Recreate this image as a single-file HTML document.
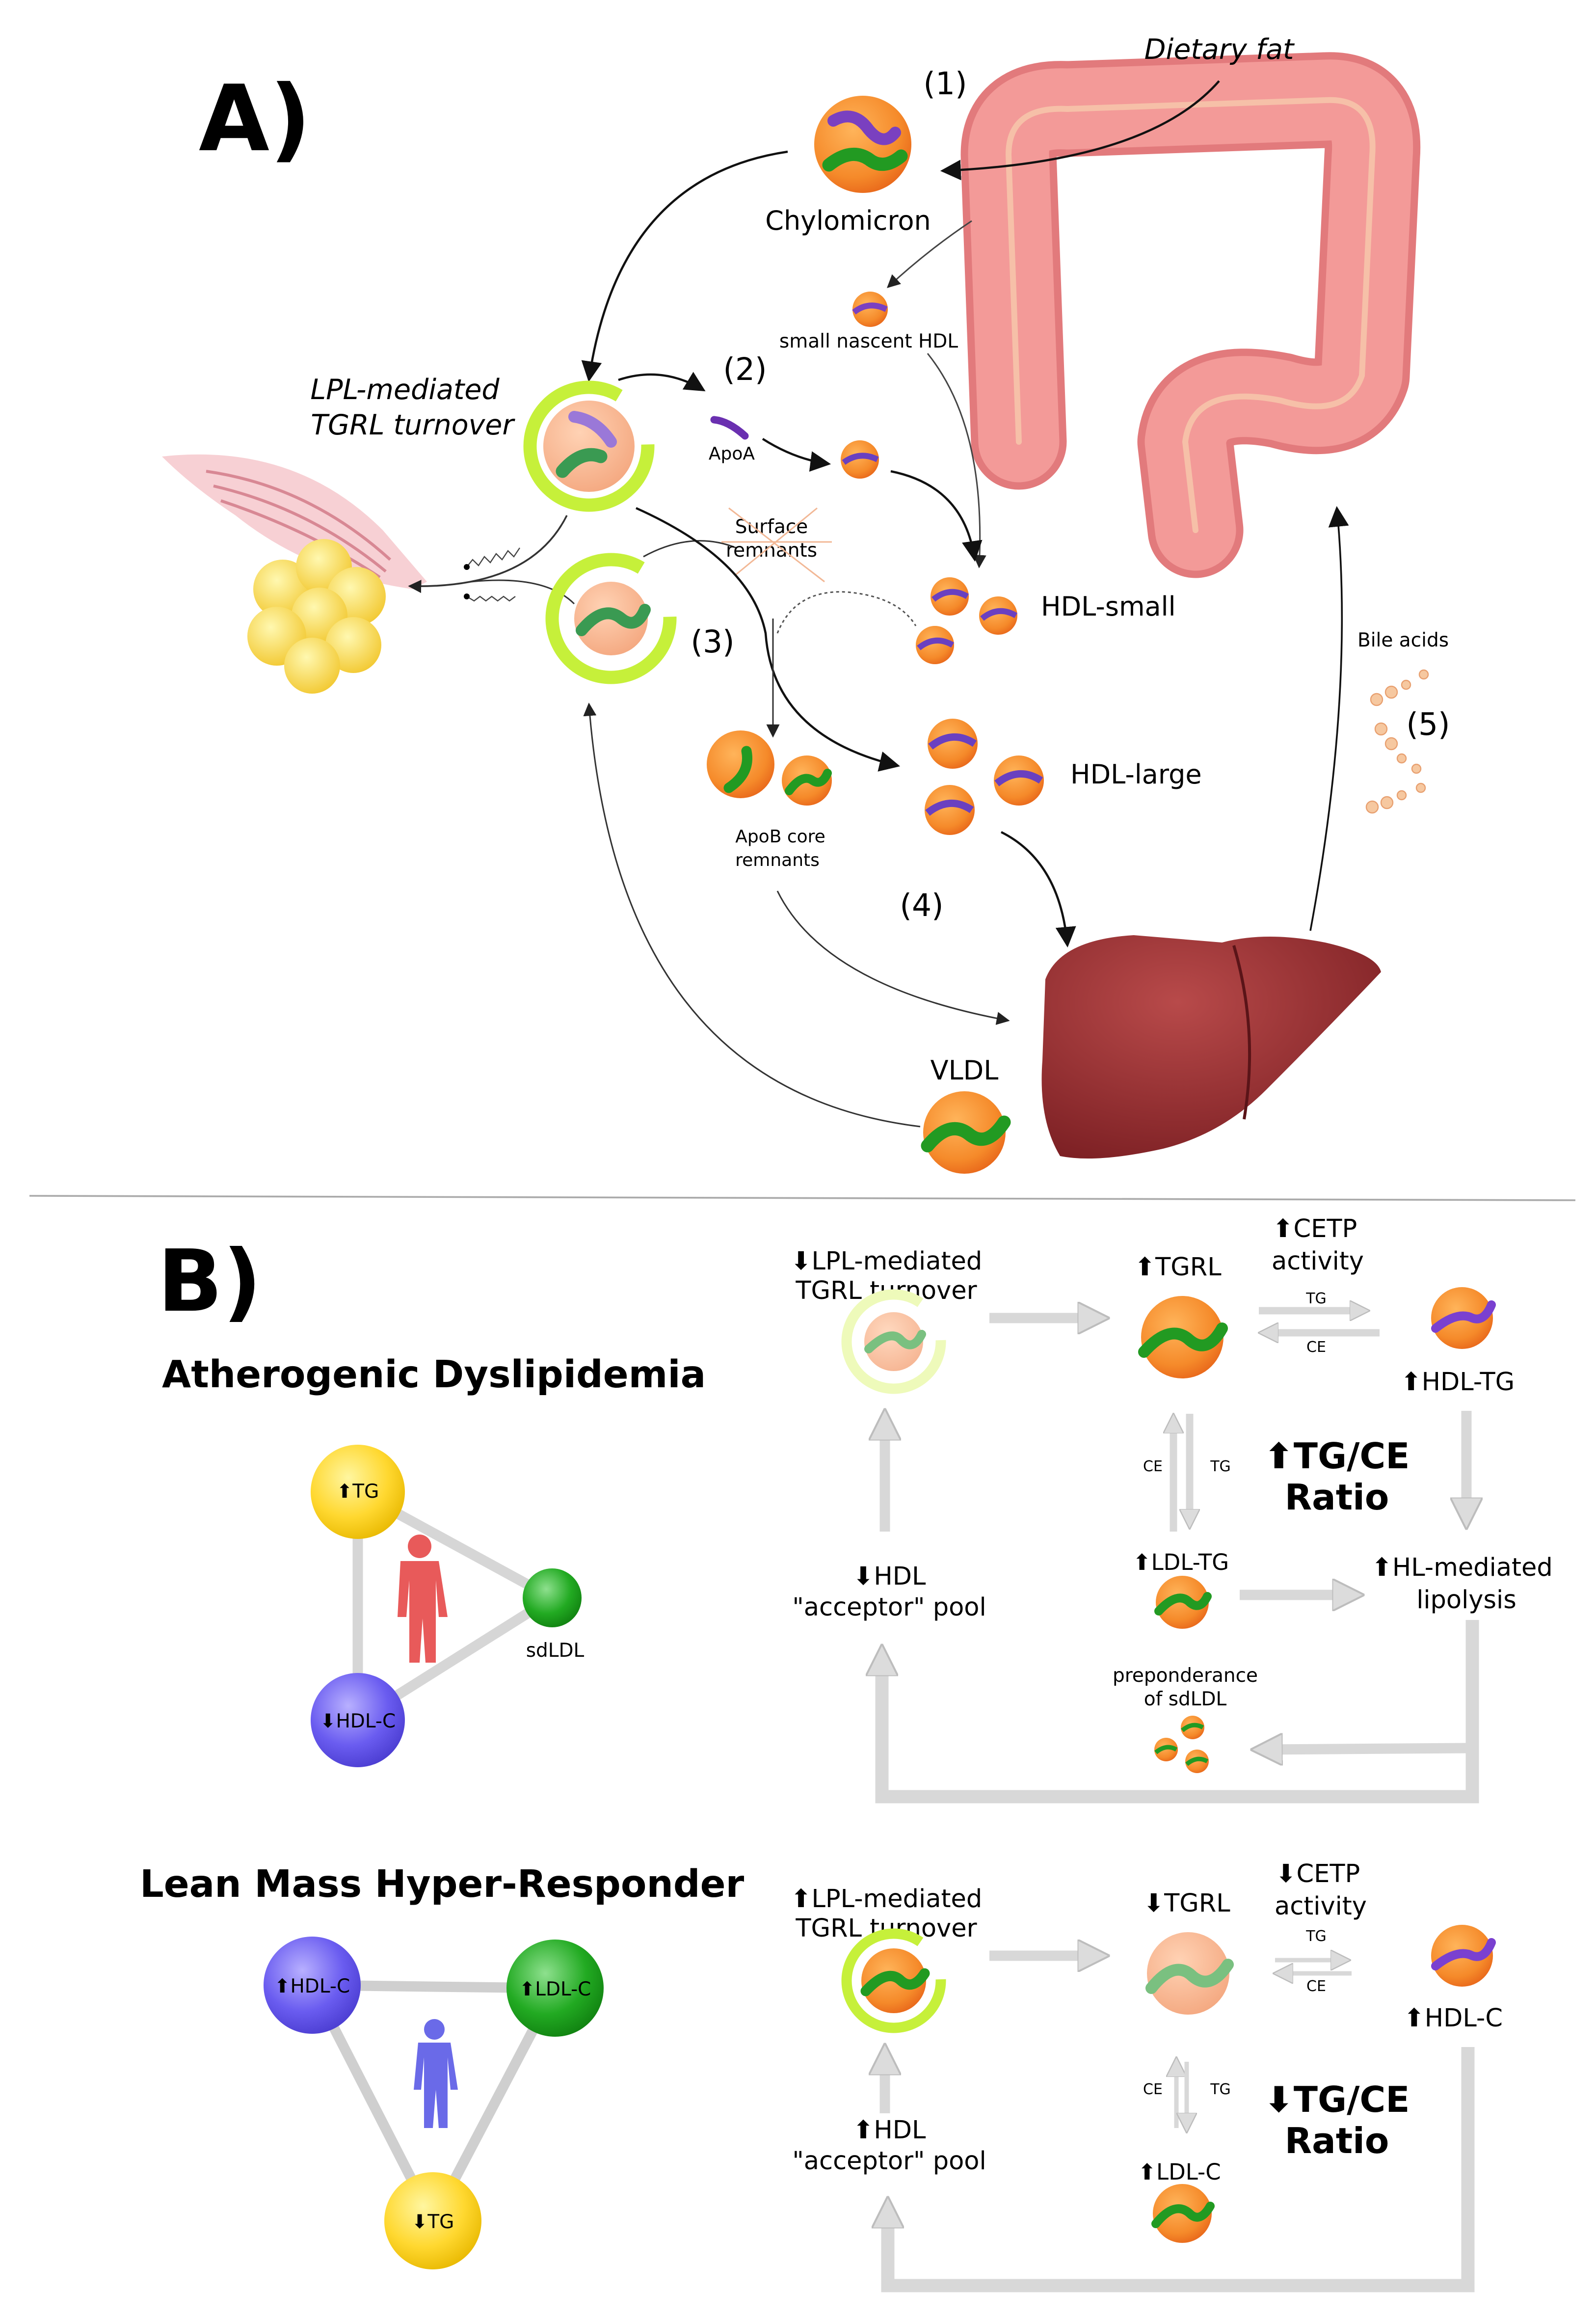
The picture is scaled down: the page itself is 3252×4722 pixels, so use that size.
<!DOCTYPE html>
<html><head><meta charset="utf-8"><style>html,body{margin:0;padding:0;background:#fff}svg{display:block}text{font-family:"DejaVu Sans","Liberation Sans",sans-serif}</style></head>
<body>
<svg width="3252" height="4722" viewBox="0 0 1084 1574" xmlns="http://www.w3.org/2000/svg">
<defs>
<radialGradient id="or" cx="0.4" cy="0.35" r="0.7"><stop offset="0" stop-color="#ffb45a"/><stop offset="0.7" stop-color="#f58a2a"/><stop offset="1" stop-color="#e8661a"/></radialGradient>
<radialGradient id="pe" cx="0.4" cy="0.35" r="0.7"><stop offset="0" stop-color="#ffd2b4"/><stop offset="1" stop-color="#f4a880"/></radialGradient>
<radialGradient id="ye" cx="0.4" cy="0.35" r="0.7"><stop offset="0" stop-color="#fff6a0"/><stop offset="0.6" stop-color="#ffd830"/><stop offset="1" stop-color="#e8b800"/></radialGradient>
<radialGradient id="gr" cx="0.4" cy="0.35" r="0.7"><stop offset="0" stop-color="#8ee08e"/><stop offset="0.6" stop-color="#22aa22"/><stop offset="1" stop-color="#108010"/></radialGradient>
<radialGradient id="pu" cx="0.4" cy="0.35" r="0.7"><stop offset="0" stop-color="#b8b0ff"/><stop offset="0.6" stop-color="#6a5cf0"/><stop offset="1" stop-color="#4a3cd0"/></radialGradient>
<radialGradient id="fat" cx="0.4" cy="0.35" r="0.7"><stop offset="0" stop-color="#fff8b0"/><stop offset="1" stop-color="#f2c830"/></radialGradient>
<radialGradient id="liv" cx="0.4" cy="0.3" r="0.8"><stop offset="0" stop-color="#b84a4a"/><stop offset="1" stop-color="#7a1e22"/></radialGradient>
<marker id="ah" viewBox="0 0 10 10" refX="9" refY="5" markerWidth="14" markerHeight="14" markerUnits="userSpaceOnUse" orient="auto"><path d="M0,0 L10,5 L0,10 z" fill="#111"/></marker>
<marker id="as" viewBox="0 0 10 10" refX="9" refY="5" markerWidth="9" markerHeight="9" markerUnits="userSpaceOnUse" orient="auto"><path d="M0,0 L10,5 L0,10 z" fill="#222"/></marker>
<marker id="ga" viewBox="0 0 10 10" refX="6" refY="5" markerWidth="22" markerHeight="22" markerUnits="userSpaceOnUse" orient="auto"><path d="M0,0 L10,5 L0,10 z" fill="#dcdcdc" stroke="#bdbdbd" stroke-width="0.6"/></marker>
<marker id="gs" viewBox="0 0 10 10" refX="6" refY="5" markerWidth="14" markerHeight="14" markerUnits="userSpaceOnUse" orient="auto"><path d="M0,0 L10,5 L0,10 z" fill="#dcdcdc" stroke="#bdbdbd" stroke-width="0.6"/></marker>
</defs>
<rect width="1084" height="1574" fill="#fff"/>

<text x="135" y="102" font-size="62" font-weight="bold" font-family="Liberation Sans">A)</text>

<g fill="none" stroke-linecap="round" stroke-linejoin="round">
<path d="M692,300 L685,105 Q685,72 725,74 L900,68 Q935,66 932,106 L925,255 Q915,285 870,272 Q810,260 805,300 L812,360" stroke="#e27a7c" stroke-width="65"/>
<path d="M692,300 L685,105 Q685,72 725,74 L900,68 Q935,66 932,106 L925,255 Q915,285 870,272 Q810,260 805,300 L812,360" stroke="#f39a98" stroke-width="55"/>
<path d="M692,300 L685,105 Q685,72 725,74 L900,68 Q935,66 932,106 L925,255 Q915,285 870,272 Q810,260 805,300 L812,360" stroke="#f6c0a8" stroke-width="4"/>
</g>
<text x="828" y="40" font-size="19" font-style="italic" text-anchor="middle">Dietary fat</text>
<path d="M828,55 Q780,110 640,116" fill="none" stroke="#111" stroke-width="1.5" marker-end="url(#ah)"/>
<text x="642" y="64" font-size="21" text-anchor="middle">(1)</text>

<circle cx="586" cy="98" r="33" fill="url(#or)"/>
<path d="M566,82 Q580,74 590,88 Q600,100 608,90" stroke="#7a40c0" stroke-width="8" fill="none" stroke-linecap="round"/>
<path d="M563,112 Q578,100 590,108 Q600,116 612,106" stroke="#229a22" stroke-width="9" fill="none" stroke-linecap="round"/>
<text x="576" y="156" font-size="18" text-anchor="middle">Chylomicron</text>
<path d="M535,103 Q420,120 400,258" fill="none" stroke="#111" stroke-width="1.5" marker-end="url(#ah)"/>

<path d="M660,150 Q630,170 603,195" fill="none" stroke="#444" stroke-width="1" marker-end="url(#as)"/>
<circle cx="591" cy="210" r="12" fill="url(#or)"/>
<path d="M580,212 Q590,204 602,210" stroke="#7a40c0" stroke-width="4" fill="none"/>
<text x="590" y="236" font-size="13" text-anchor="middle">small nascent HDL</text>
<path d="M630,240 Q670,290 665,385" fill="none" stroke="#444" stroke-width="1" marker-end="url(#as)"/>

<text x="275" y="271" font-size="19" font-style="italic" text-anchor="middle">LPL-mediated</text>
<text x="280" y="295" font-size="19" font-style="italic" text-anchor="middle">TGRL turnover</text>
<circle cx="400" cy="303" r="40" fill="none" stroke="#c6f03a" stroke-width="9" stroke-dasharray="210 40"/>
<circle cx="400" cy="303" r="31" fill="url(#pe)"/>
<path d="M390,283 Q405,285 415,300" stroke="#9a78d8" stroke-width="8" fill="none" stroke-linecap="round"/>
<path d="M382,320 Q395,305 408,310" stroke="#3a9a52" stroke-width="9" fill="none" stroke-linecap="round"/>
<path d="M420,258 Q450,248 478,265" fill="none" stroke="#111" stroke-width="1.5" marker-end="url(#ah)"/>
<text x="506" y="258" font-size="21" text-anchor="middle">(2)</text>
<path d="M485,285 Q495,286 506,296" stroke="#6a30b0" stroke-width="5" fill="none" stroke-linecap="round"/>
<text x="497" y="312" font-size="12" text-anchor="middle">ApoA</text>
<path d="M518,298 Q540,312 563,315" fill="none" stroke="#111" stroke-width="1.5" marker-end="url(#ah)"/>
<circle cx="584" cy="312" r="13" fill="url(#or)"/>
<path d="M573,314 Q584,306 596,312" stroke="#6a40c0" stroke-width="4" fill="none"/>
<path d="M605,320 Q655,330 662,380" fill="none" stroke="#111" stroke-width="1.5" marker-end="url(#ah)"/>

<path d="M110,310 Q200,300 260,360 L290,395 L280,400 Q210,390 160,350 Q130,330 110,310z" fill="#f7d0d4"/>
<path d="M140,320 Q210,330 265,380 M145,330 Q210,345 262,388 M150,340 Q210,360 258,392" stroke="#d88894" stroke-width="2" fill="none"/>
<g fill="url(#fat)">
<circle cx="192" cy="400" r="20"/><circle cx="220" cy="385" r="19"/><circle cx="242" cy="405" r="20"/>
<circle cx="217" cy="418" r="19"/><circle cx="188" cy="432" r="20"/><circle cx="240" cy="438" r="19"/><circle cx="212" cy="452" r="19"/>
</g>
<path d="M385,350 Q360,400 278,398" fill="none" stroke="#333" stroke-width="1.2" marker-end="url(#as)"/>
<path d="M320,395 Q370,390 390,410" fill="none" stroke="#333" stroke-width="1"/>
<path d="M317,385 l4,-5 l4,4 l4,-6 l4,4 l4,-6 l4,4 l4,-6 l4,4 l4,-6" fill="none" stroke="#444" stroke-width="0.8"/>
<path d="M317,385 l0,0" stroke="#000" stroke-width="4" stroke-linecap="round"/>
<path d="M317,405 l5,3 l4,-3 l4,3 l4,-3 l4,3 l4,-3 l4,3 l4,-3" fill="none" stroke="#444" stroke-width="0.8"/>
<path d="M317,405 l0,0" stroke="#000" stroke-width="4" stroke-linecap="round"/>

<circle cx="415" cy="420" r="40" fill="none" stroke="#c6f03a" stroke-width="9" stroke-dasharray="210 40"/>
<circle cx="415" cy="420" r="25" fill="url(#pe)"/>
<path d="M395,428 Q410,410 422,420 Q432,428 438,414" stroke="#3a9a52" stroke-width="8" fill="none" stroke-linecap="round"/>
<text x="484" y="443" font-size="21" text-anchor="middle">(3)</text>
<path d="M437,378 Q470,360 500,372" fill="none" stroke="#333" stroke-width="1"/>
<text x="524" y="362" font-size="13" text-anchor="middle">Surface</text>
<text x="524" y="378" font-size="13" text-anchor="middle">remnants</text>
<g stroke="#f2b896" stroke-width="1" fill="none"><path d="M495,345 L560,395 M500,390 L555,345 M490,368 L565,368"/></g>

<path d="M432,345 Q510,380 520,430 Q525,500 610,520" fill="none" stroke="#111" stroke-width="1.5" marker-end="url(#ah)"/>
<path d="M525,420 L525,500" fill="none" stroke="#333" stroke-width="1" marker-end="url(#as)"/>
<path d="M528,430 Q540,400 575,402 Q610,405 622,425" fill="none" stroke="#555" stroke-width="1" stroke-dasharray="2,2"/>

<g>
<circle cx="645" cy="405" r="13" fill="url(#or)"/><path d="M634,407 Q645,398 657,405" stroke="#6a40c0" stroke-width="4" fill="none"/>
<circle cx="678" cy="418" r="13" fill="url(#or)"/><path d="M667,420 Q678,411 690,418" stroke="#6a40c0" stroke-width="4" fill="none"/>
<circle cx="635" cy="438" r="13" fill="url(#or)"/><path d="M624,440 Q635,431 647,438" stroke="#6a40c0" stroke-width="4" fill="none"/>
</g>
<text x="707" y="418" font-size="18">HDL-small</text>

<circle cx="503" cy="519" r="23" fill="url(#or)"/><path d="M495,535 Q510,525 507,510" stroke="#229a22" stroke-width="7" fill="none" stroke-linecap="round"/>
<circle cx="548" cy="530" r="17" fill="url(#or)"/><path d="M536,537 Q545,525 552,530 Q558,534 562,525" stroke="#229a22" stroke-width="6" fill="none" stroke-linecap="round"/>
<text x="530" y="572" font-size="12" text-anchor="middle">ApoB core</text>
<text x="528" y="588" font-size="12" text-anchor="middle">remnants</text>

<circle cx="647" cy="505" r="17" fill="url(#or)"/><path d="M632,507 Q647,495 662,505" stroke="#6a40c0" stroke-width="5" fill="none"/>
<circle cx="692" cy="530" r="17" fill="url(#or)"/><path d="M677,532 Q692,520 707,530" stroke="#6a40c0" stroke-width="5" fill="none"/>
<circle cx="645" cy="550" r="17" fill="url(#or)"/><path d="M630,552 Q645,540 660,550" stroke="#6a40c0" stroke-width="5" fill="none"/>
<text x="727" y="532" font-size="18">HDL-large</text>
<path d="M680,565 Q720,585 725,642" fill="none" stroke="#111" stroke-width="1.5" marker-end="url(#ah)"/>
<text x="626" y="622" font-size="21" text-anchor="middle">(4)</text>
<path d="M528,605 Q560,670 685,693" fill="none" stroke="#333" stroke-width="1" marker-end="url(#as)"/>

<path d="M710,665 Q720,638 770,635 L830,640 Q860,632 900,640 Q935,648 938,660 Q900,700 860,740 Q830,770 790,780 Q745,790 720,785 Q705,760 708,720 z" fill="url(#liv)"/>
<path d="M838,642 Q855,700 845,760" stroke="#5a1418" stroke-width="2" fill="none"/>

<path d="M890,632 Q920,470 908,345" fill="none" stroke="#111" stroke-width="1.2" marker-end="url(#ah)"/>
<text x="953" y="439" font-size="13" text-anchor="middle">Bile acids</text>
<text x="970" y="499" font-size="21" text-anchor="middle">(5)</text>
<g fill="#f6c8a0" stroke="#e8a070" stroke-width="0.8">
<circle cx="935" cy="475" r="4"/><circle cx="945" cy="470" r="4"/><circle cx="955" cy="465" r="3"/><circle cx="967" cy="458" r="3"/>
<circle cx="938" cy="495" r="4"/><circle cx="945" cy="505" r="4"/><circle cx="952" cy="515" r="3"/><circle cx="962" cy="522" r="3"/>
<circle cx="932" cy="548" r="4"/><circle cx="942" cy="545" r="4"/><circle cx="952" cy="540" r="3"/><circle cx="965" cy="535" r="3"/>
</g>

<text x="655" y="733" font-size="18" text-anchor="middle">VLDL</text>
<circle cx="655" cy="769" r="28" fill="url(#or)"/>
<path d="M630,778 Q645,760 658,770 Q670,780 682,762" stroke="#229a22" stroke-width="9" fill="none" stroke-linecap="round"/>
<path d="M625,765 Q420,740 400,478" fill="none" stroke="#333" stroke-width="1" marker-end="url(#as)"/>

<line x1="20" y1="812" x2="1070" y2="815" stroke="#aaa" stroke-width="1.2"/>

<text x="107" y="890" font-size="58" font-weight="bold" font-family="Liberation Sans">B)</text>
<text x="110" y="942" font-size="25.5" font-weight="bold">Atherogenic Dyslipidemia</text>

<g stroke="#d6d6d6" stroke-width="7"><line x1="243" y1="1013" x2="375" y2="1085"/><line x1="243" y1="1013" x2="243" y2="1168"/><line x1="243" y1="1168" x2="375" y2="1085"/></g>
<circle cx="243" cy="1013" r="32" fill="url(#ye)"/><text x="243" y="1017" font-size="13" text-anchor="middle">⬆TG</text>
<circle cx="375" cy="1085" r="20" fill="url(#gr)"/><text x="377" y="1125" font-size="13" text-anchor="middle">sdLDL</text>
<circle cx="243" cy="1168" r="32" fill="url(#pu)"/><text x="243" y="1173" font-size="13" text-anchor="middle">⬇HDL-C</text>
<g fill="#e85a5a"><circle cx="285" cy="1050" r="8"/><path d="M272,1060 h26 l6,38 h-6 l-2,-25 v56 h-7 l-2,-30 l-2,30 h-7 v-56 l-2,25 h-6 z"/></g>

<text x="95" y="1288" font-size="25.5" font-weight="bold">Lean Mass Hyper-Responder</text>
<g stroke="#cfcfcf" stroke-width="7"><line x1="212" y1="1348" x2="377" y2="1350"/><line x1="212" y1="1348" x2="294" y2="1508"/><line x1="377" y1="1350" x2="294" y2="1508"/></g>
<circle cx="212" cy="1348" r="33" fill="url(#pu)"/><text x="212" y="1353" font-size="13" text-anchor="middle">⬆HDL-C</text>
<circle cx="377" cy="1350" r="33" fill="url(#gr)"/><text x="377" y="1355" font-size="13" text-anchor="middle">⬆LDL-C</text>
<circle cx="294" cy="1508" r="33" fill="url(#ye)"/><text x="294" y="1513" font-size="13" text-anchor="middle">⬇TG</text>
<g fill="#6a6ae8"><circle cx="295" cy="1378" r="7"/><path d="M284,1387 h22 l5,32 h-5 l-2,-22 v48 h-6 l-2,-26 l-2,26 h-6 v-48 l-2,22 h-5 z"/></g>

<g font-size="17" text-anchor="middle">
<text x="602" y="862">⬇LPL-mediated</text><text x="602" y="882">TGRL turnover</text>
<text x="800" y="866">⬆TGRL</text>
<text x="893" y="840">⬆CETP</text><text x="895" y="862">activity</text>
<text x="990" y="944">⬆HDL-TG</text>
<text x="802" y="1066" font-size="15">⬆LDL-TG</text>
<text x="993" y="1070">⬆HL-mediated</text><text x="996" y="1092">lipolysis</text>
<text x="604" y="1076">⬇HDL</text><text x="604" y="1097">"acceptor" pool</text>
<text x="805" y="1142" font-size="13">preponderance</text><text x="805" y="1158" font-size="13">of sdLDL</text>
</g>
<text x="908" y="997" font-size="24" font-weight="bold" text-anchor="middle">⬆TG/CE</text>
<text x="908" y="1025" font-size="24" font-weight="bold" text-anchor="middle">Ratio</text>
<text x="894" y="885" font-size="10" text-anchor="middle">TG</text><text x="894" y="918" font-size="10" text-anchor="middle">CE</text>
<text x="783" y="999" font-size="10" text-anchor="middle">CE</text><text x="829" y="999" font-size="10" text-anchor="middle">TG</text>

<circle cx="607" cy="911" r="32" fill="none" stroke="#eefaba" stroke-width="7" stroke-dasharray="170 30"/>
<circle cx="607" cy="911" r="20" fill="url(#pe)" opacity="0.85"/>
<path d="M590,916 Q605,902 612,910 Q620,918 626,906" stroke="#7ac080" stroke-width="6" fill="none" stroke-linecap="round"/>
<circle cx="803" cy="908" r="28" fill="url(#or)"/>
<path d="M777,918 Q795,898 808,910 Q820,920 830,902" stroke="#229a22" stroke-width="8" fill="none" stroke-linecap="round"/>
<circle cx="993" cy="895" r="21" fill="url(#or)"/>
<path d="M975,902 Q990,890 1000,895 Q1008,898 1013,886" stroke="#7a40d0" stroke-width="6" fill="none" stroke-linecap="round"/>
<circle cx="803" cy="1088" r="18" fill="url(#or)"/>
<path d="M787,1094 Q800,1080 808,1088 Q815,1094 820,1084" stroke="#229a22" stroke-width="6" fill="none" stroke-linecap="round"/>
<g>
<circle cx="810" cy="1173" r="8" fill="url(#or)"/><path d="M803,1175 q7,-6 14,-2" stroke="#229a22" stroke-width="3" fill="none"/>
<circle cx="792" cy="1188" r="8" fill="url(#or)"/><path d="M785,1190 q7,-6 14,-2" stroke="#229a22" stroke-width="3" fill="none"/>
<circle cx="813" cy="1196" r="8" fill="url(#or)"/><path d="M806,1198 q7,-6 14,-2" stroke="#229a22" stroke-width="3" fill="none"/>
</g>

<g fill="none" stroke="#d8d8d8" stroke-width="7">
<line x1="672" y1="895" x2="745" y2="895" marker-end="url(#ga)"/>
<line x1="855" y1="890" x2="925" y2="890" stroke-width="5" marker-end="url(#gs)"/>
<line x1="937" y1="905" x2="860" y2="905" stroke-width="5" marker-end="url(#gs)"/>
<line x1="797" y1="1040" x2="797" y2="965" stroke-width="5" marker-end="url(#gs)"/>
<line x1="808" y1="960" x2="808" y2="1033" stroke-width="5" marker-end="url(#gs)"/>
<line x1="996" y1="958" x2="996" y2="1030" marker-end="url(#ga)"/>
<line x1="842" y1="1083" x2="918" y2="1083" marker-end="url(#ga)"/>
<line x1="601" y1="1040" x2="601" y2="965" marker-end="url(#ga)"/>
<path d="M1000,1100 L1000,1220 L599,1220 L599,1125" marker-end="url(#ga)" stroke-width="9"/>
<line x1="998" y1="1187" x2="858" y2="1188" marker-end="url(#ga)"/>
</g>

<g font-size="17" text-anchor="middle">
<text x="602" y="1295">⬆LPL-mediated</text><text x="602" y="1315">TGRL turnover</text>
<text x="806" y="1298">⬇TGRL</text>
<text x="895" y="1278">⬇CETP</text><text x="897" y="1300">activity</text>
<text x="987" y="1376">⬆HDL-C</text>
<text x="801" y="1480" font-size="15">⬆LDL-C</text>
<text x="604" y="1452">⬆HDL</text><text x="604" y="1473">"acceptor" pool</text>
</g>
<text x="908" y="1434" font-size="24" font-weight="bold" text-anchor="middle">⬇TG/CE</text>
<text x="908" y="1462" font-size="24" font-weight="bold" text-anchor="middle">Ratio</text>
<text x="894" y="1318" font-size="10" text-anchor="middle">TG</text><text x="894" y="1352" font-size="10" text-anchor="middle">CE</text>
<text x="783" y="1422" font-size="10" text-anchor="middle">CE</text><text x="829" y="1422" font-size="10" text-anchor="middle">TG</text>

<circle cx="607" cy="1345" r="32" fill="none" stroke="#c6f03a" stroke-width="7" stroke-dasharray="170 30"/>
<circle cx="607" cy="1345" r="22" fill="url(#or)"/>
<path d="M588,1352 Q603,1336 612,1345 Q620,1352 628,1340" stroke="#229a22" stroke-width="7" fill="none" stroke-linecap="round"/>
<circle cx="807" cy="1340" r="28" fill="url(#pe)"/>
<path d="M782,1350 Q798,1330 810,1342 Q822,1352 834,1334" stroke="#7ac080" stroke-width="8" fill="none" stroke-linecap="round"/>
<circle cx="993" cy="1328" r="21" fill="url(#or)"/>
<path d="M975,1335 Q990,1323 1000,1328 Q1008,1331 1013,1319" stroke="#7a40d0" stroke-width="6" fill="none" stroke-linecap="round"/>
<circle cx="803" cy="1503" r="20" fill="url(#or)"/>
<path d="M785,1510 Q798,1494 808,1503 Q815,1510 822,1498" stroke="#229a22" stroke-width="6" fill="none" stroke-linecap="round"/>

<g fill="none" stroke="#d8d8d8" stroke-width="7">
<line x1="672" y1="1328" x2="745" y2="1328" marker-end="url(#ga)"/>
<line x1="866" y1="1331" x2="912" y2="1331" stroke-width="3" marker-end="url(#gs)"/>
<line x1="918" y1="1340" x2="870" y2="1340" stroke-width="3" marker-end="url(#gs)"/>
<line x1="799" y1="1445" x2="799" y2="1402" stroke-width="3" marker-end="url(#gs)"/>
<line x1="806" y1="1400" x2="806" y2="1443" stroke-width="3" marker-end="url(#gs)"/>
<line x1="601" y1="1435" x2="601" y2="1396" marker-end="url(#ga)"/>
<path d="M997,1390 L997,1552 L603,1552 L603,1500" marker-end="url(#ga)" stroke-width="9"/>
</g>
</svg>
</body></html>
